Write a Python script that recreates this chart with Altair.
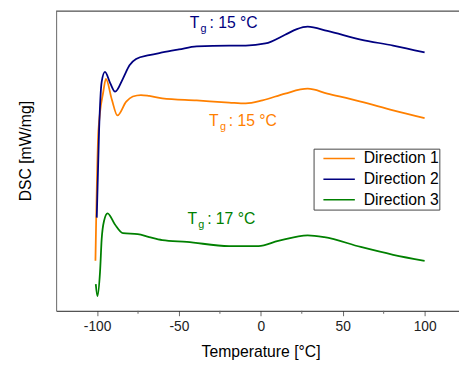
import altair as alt
import pandas as pd

# ---- data (temperature in °C, DSC in arbitrary units) ----
series_names = ["Direction 1", "Direction 2", "Direction 3"]
series_colors = ["#FF8000", "#000080", "#008000"]

dir1_t = [-101.0, -99.2, -96.2, -94.6, -91.0, -87.6, -82.2, -78.2, -73.2, -68.2, -60.2,
          -39.2, -19.4, -9.2, 1.0, 14.8, 28.6, 40.6, 61.0, 80.8, 100.0]
dir1_v = [16.7, 60.0, 73.1, 77.4, 70.5, 65.2, 69.8, 71.5, 72.0, 71.7, 70.9,
          70.2, 69.5, 69.2, 70.2, 72.5, 74.1, 72.5, 69.8, 66.9, 64.3]

dir2_t = [-100.2, -98.8, -97.2, -95.2, -92.0, -89.0, -84.2, -80.2, -76.2, -68.2, -60.2,
          -50.0, -39.2, -19.4, -9.2, 2.8, 14.8, 22.0, 28.6, 40.6, 61.0, 80.8, 100.0]
dir2_v = [31.1, 60.0, 76.4, 79.7, 76.0, 73.1, 77.5, 81.9, 84.0, 85.3, 86.2,
          87.2, 88.2, 88.5, 88.5, 89.2, 92.1, 94.0, 94.8, 93.4, 90.5, 88.5, 86.2]

dir3_t = [-100.8, -99.8, -98.2, -97.2, -95.8, -93.6, -89.2, -84.2, -75.2, -68.2, -60.2,
          -45.2, -19.4, -1.4, 10.6, 28.6, 38.8, 61.0, 80.8, 100.0]
dir3_v = [8.9, 4.9, 13.0, 23.9, 29.9, 32.5, 28.9, 25.9, 25.6, 24.6, 23.6,
          23.0, 21.6, 21.6, 23.3, 25.2, 24.6, 21.3, 18.7, 16.7]

# Tg annotations
ann_series = ["Direction 2", "Direction 1", "Direction 3"]
ann_x = [-43.4, -31.6, -44.8]
ann_y = [94.4, 61.6, 28.9]
ann_rest = [": 15 °C", ": 15 °C", ": 17 °C"]

x_major = [-100, -50, 0, 50, 100]
x_minor = [-75, -25, 25, 75]

W, H = 410, 305

rows = []
for name, ts, vs in [("Direction 1", dir1_t, dir1_v),
                     ("Direction 2", dir2_t, dir2_v),
                     ("Direction 3", dir3_t, dir3_v)]:
    for t, v in zip(ts, vs):
        rows.append({"series": name, "t": t, "v": v})
df = pd.DataFrame(rows)
ann = pd.DataFrame({"series": ann_series, "t": ann_x, "v": ann_y, "rest": ann_rest})
minor = pd.DataFrame({"t": x_minor})

xscale = alt.Scale(domain=[-125, 121], nice=False, zero=False)
yscale = alt.Scale(domain=[0, 100], nice=False, zero=False)
cscale = alt.Scale(domain=series_names, range=series_colors)

xaxis = alt.Axis(
    values=x_major, labelExpr="toString(datum.value)",
    title="Temperature [°C]", titleFontSize=16, titleFontWeight="normal",
    titleColor="black", titleX=208, titleY=47, titleAlign="center",
    titleBaseline="alphabetic", labelFontSize=14, labelColor="#222",
    labelPadding=4, tickSize=5, tickColor="#666", domainColor="#222",
    grid=False, labelFlush=False)
yaxis = alt.Axis(
    title="DSC [mW/mg]", labels=False, ticks=False, grid=False,
    domainColor="#666", titleFontSize=16, titleFontWeight="normal",
    titleColor="black", titleX=-31, titleY=142, titleAngle=270,
    titleAlign="center", titleBaseline="middle")

lines = alt.Chart(df).mark_line(strokeWidth=1.8, interpolate="monotone").encode(
    x=alt.X("t:Q", scale=xscale, axis=xaxis),
    y=alt.Y("v:Q", scale=yscale, axis=yaxis),
    color=alt.Color("series:N", scale=cscale, legend=alt.Legend(
        title=None, orient="none", legendX=262, legendY=140,
        symbolType="stroke", symbolSize=1024, symbolStrokeWidth=1.5,
        clipHeight=20, rowPadding=1, padding=0, symbolOffset=9, labelOffset=8,
        labelFontSize=16, labelColor="black", strokeColor="#444",
        fillColor="white")),
    detail="series:N",
)

base_ann = alt.Chart(ann).encode(
    x=alt.X("t:Q", scale=xscale, axis=xaxis),
    y=alt.Y("v:Q", scale=yscale, axis=yaxis),
    color=alt.Color("series:N", scale=cscale, legend=None),
)
t_main = base_ann.mark_text(align="left", baseline="alphabetic", fontSize=16).encode(
    text=alt.value("T"))
t_sub = base_ann.mark_text(align="left", baseline="alphabetic", fontSize=11, dx=11, dy=4).encode(
    text=alt.value("g"))
t_rest = base_ann.mark_text(align="left", baseline="alphabetic", fontSize=16, dx=20).encode(
    text="rest:N")

minor_ticks = alt.Chart(minor).mark_rule(color="#666").encode(
    x=alt.X("t:Q", scale=xscale, axis=xaxis),
    y=alt.value(H), y2=alt.value(H + 3),
)

top_line = alt.Chart(pd.DataFrame({"a": [0]})).mark_rule(color="#222").encode(
    x=alt.value(0), x2=alt.value(W), y=alt.value(0),
)

chart = alt.layer(lines, t_main, t_sub, t_rest, minor_ticks, top_line).properties(
    width=W, height=H,
    padding={"left": 49, "top": 0, "right": 0, "bottom": 53},
    autosize=alt.AutoSizeParams(type="none"),
).configure(font="Liberation Sans").configure_view(stroke=None)

chart.save("out.html", embed_options={"renderer": "svg", "actions": False})
